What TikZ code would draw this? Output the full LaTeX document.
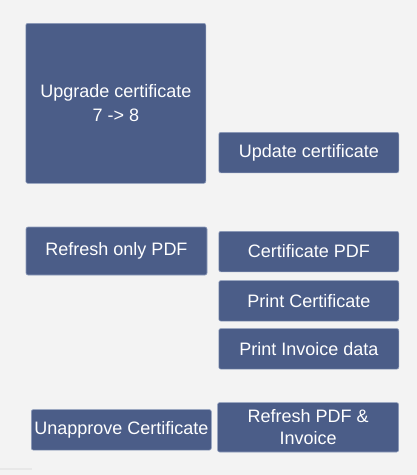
\documentclass[tikz,border=0pt]{standalone}
\usepackage{fontspec}
\setmainfont{Liberation Sans}
\definecolor{boxblue}{HTML}{4B5D88}
\definecolor{boxedge}{HTML}{8F9DBB}
\definecolor{paper}{HTML}{F3F3F3}
\begin{document}
\begin{tikzpicture}[x=1pt,y=-1pt,
base/.style={
rounded corners=2pt,
draw=boxedge,
line width=0.6pt,
fill=boxblue,
inner sep=0pt,
anchor=north west,
align=center,
},
white/.style={
font={\color{white}\fontsize{18pt}{24pt}\selectfont},
},
w1/.style={
base,
white,
minimum width=180,
minimum height=40.5,
},
w2/.style={
base,
white,
minimum width=181,
minimum height=48,
},
h2/.style={
base,
white,
minimum width=180,
minimum height=160,
},
]
\fill[paper](0,0)rectangle(417,475);
\useasboundingbox(0,0)rectangle(417,475);
\draw[gray!18,line width=1.5pt](0,469)--(32,469);
\node[h2](upgrade)at(25.5,23){Upgrade certificate\\7 -> 8};
\node[w1](update)at(218.5,132){Update certificate};
\node[w2](refreshonly)at(25.7,226.7){Refresh only PDF};
\node[w1](certpdf)at(218.5,231){Certificate PDF};
\node[w1](printcert)at(218.5,280.3){Print Certificate};
\node[w1](printinv)at(218.5,328.3){Print Invoice data};
\node[w1](unapprove)at(31,409.3){Unapprove Certificate};
\node[w2,minimum height=49.4,font={\color{white}\fontsize{18pt}{22pt}\selectfont}](refreshboth)at(217.3,402.3){Refresh PDF \&\\Invoice};

\end{tikzpicture}
\end{document}
